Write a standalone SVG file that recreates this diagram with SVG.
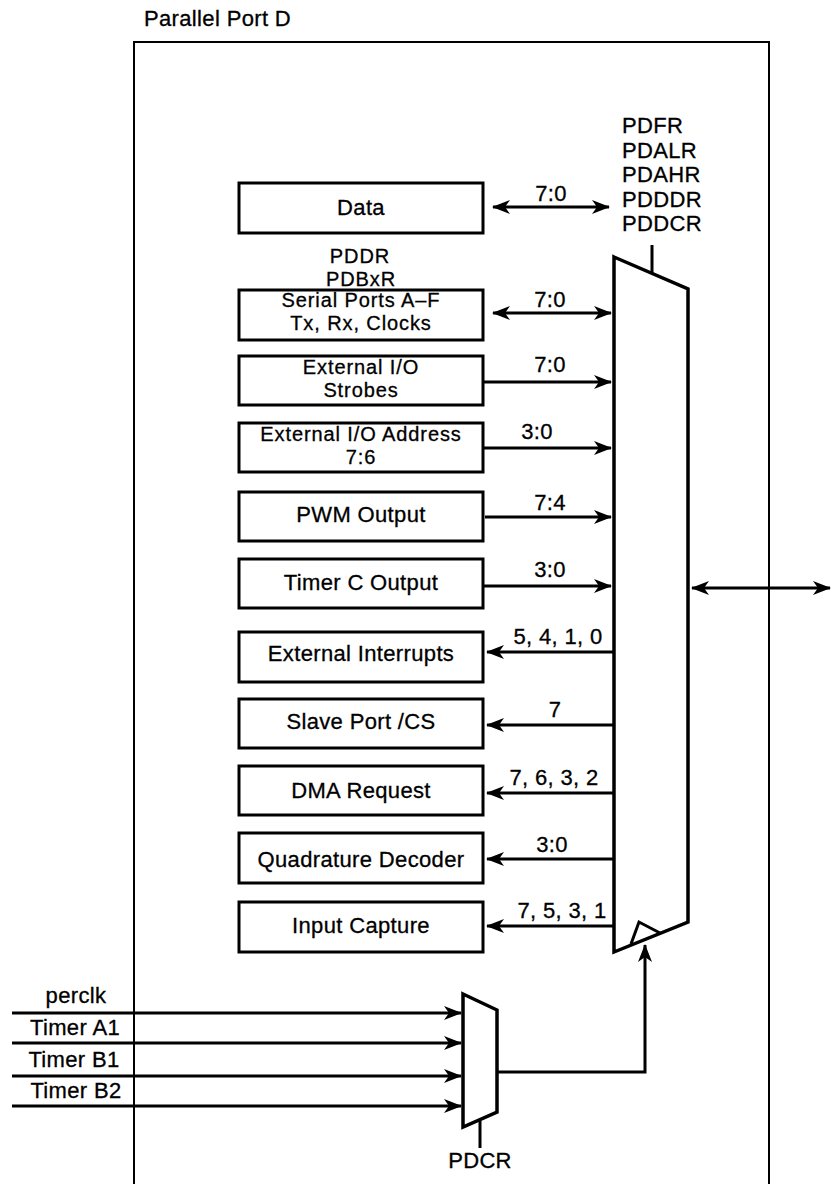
<svg xmlns="http://www.w3.org/2000/svg" width="831" height="1184" viewBox="0 0 831 1184">
<style>
text{font-family:"Liberation Sans",Arial,sans-serif;font-size:22px;letter-spacing:0.35px;fill:#000;stroke:#000;stroke-width:0.3}
.c{text-anchor:middle}
.t2{font-size:20px;letter-spacing:0.9px}
.box{fill:#fff;stroke:#000;stroke-width:3}
.frame{fill:none;stroke:#000;stroke-width:2}
.w{fill:none;stroke:#000;stroke-width:3}
.mux{fill:#fff;stroke:#000;stroke-width:3.5;stroke-linejoin:miter}
</style>
<defs>
<marker id="ah" viewBox="0 0 18 14" refX="17" refY="7" markerWidth="18" markerHeight="14" markerUnits="userSpaceOnUse" orient="auto-start-reverse">
<path d="M0,0 L18,7 L0,14 L5,7 Z" fill="#000"/>
</marker>
</defs>
<rect width="831" height="1184" fill="#fff"/>
<text x="144" y="26">Parallel Port D</text>
<path class="frame" d="M134,1184 V42 H769 V1184"/>

<g id="mux-main">
<path class="mux" d="M614,257 L688,289 L688,922 L614,952 Z"/>
<path class="w" d="M652,245 V273"/>
<path class="w" d="M631,944 L639,922 L660,933" stroke-width="2.5"/>
<text x="622"><tspan x="622" y="133">PDFR</tspan><tspan x="622" y="158">PDALR</tspan><tspan x="622" y="182">PDAHR</tspan><tspan x="622" y="207">PDDDR</tspan><tspan x="622" y="231">PDDCR</tspan></text>
</g>

<g id="mux-clk">
<path class="mux" d="M463,994 L497,1010 L497,1112 L463,1127 Z"/>
<path class="w" d="M480,1121 V1148"/>
<text class="c" x="480" y="1168">PDCR</text>
</g>

<g id="n-data"><rect class="box" x="239" y="183" width="244" height="50"/><text class="c" x="361" y="215">Data</text>
<text class="c t2"><tspan x="360" y="263">PDDR</tspan><tspan x="361" y="286">PDBxR</tspan></text></g>
<g id="n-serial"><rect class="box" x="239" y="290" width="244" height="50"/><text class="c t2"><tspan x="361" y="307">Serial Ports A–F</tspan><tspan x="361" y="330">Tx, Rx, Clocks</tspan></text></g>
<g id="n-strobes"><rect class="box" x="239" y="356" width="244" height="49"/><text class="c t2"><tspan x="361" y="374">External I/O</tspan><tspan x="361" y="397">Strobes</tspan></text></g>
<g id="n-addr"><rect class="box" x="239" y="423" width="244" height="49"/><text class="c t2"><tspan x="361" y="441">External I/O Address</tspan><tspan x="361" y="464">7:6</tspan></text></g>
<g id="n-pwm"><rect class="box" x="239" y="492" width="244" height="49"/><text class="c" x="361" y="522">PWM Output</text></g>
<g id="n-timerc"><rect class="box" x="239" y="559" width="244" height="49"/><text class="c" x="361" y="590">Timer C Output</text></g>
<g id="n-extint"><rect class="box" x="239" y="632" width="244" height="50"/><text class="c" x="361" y="661">External Interrupts</text></g>
<g id="n-slave"><rect class="box" x="239" y="699" width="244" height="49"/><text class="c" x="361" y="729">Slave Port /CS</text></g>
<g id="n-dma"><rect class="box" x="239" y="766" width="244" height="49"/><text class="c" x="361" y="798">DMA Request</text></g>
<g id="n-quad"><rect class="box" x="239" y="833" width="244" height="50"/><text class="c" x="361" y="867">Quadrature Decoder</text></g>
<g id="n-ic"><rect class="box" x="239" y="902" width="244" height="50"/><text class="c" x="361" y="933">Input Capture</text></g>

<g id="connectors">
<path class="w" d="M493,207 H609" marker-start="url(#ah)" marker-end="url(#ah)"/>
<path class="w" d="M493,313 H611" marker-start="url(#ah)" marker-end="url(#ah)"/>
<path class="w" d="M483,382 H611" marker-end="url(#ah)"/>
<path class="w" d="M483,448 H611" marker-end="url(#ah)"/>
<path class="w" d="M485,517 H611" marker-end="url(#ah)"/>
<path class="w" d="M483,586 H611" marker-end="url(#ah)"/>
<path class="w" d="M614,652 H487" marker-end="url(#ah)"/>
<path class="w" d="M614,725 H487" marker-end="url(#ah)"/>
<path class="w" d="M614,793 H487" marker-end="url(#ah)"/>
<path class="w" d="M614,859 H487" marker-end="url(#ah)"/>
<path class="w" d="M614,926 H487" marker-end="url(#ah)"/>
<path class="w" d="M692,588 H830" marker-start="url(#ah)" marker-end="url(#ah)"/>
<path class="w" d="M12,1013 H461" marker-end="url(#ah)"/>
<path class="w" d="M12,1043 H461" marker-end="url(#ah)"/>
<path class="w" d="M12,1076 H461" marker-end="url(#ah)"/>
<path class="w" d="M12,1106 H461" marker-end="url(#ah)"/>
<path class="w" d="M497,1072 H645 V945" marker-end="url(#ah)"/>
<text class="c" x="551" y="201">7:0</text>
<text class="c" x="550" y="307">7:0</text>
<text class="c" x="550" y="372">7:0</text>
<text class="c" x="537" y="439">3:0</text>
<text class="c" x="550" y="510">7:4</text>
<text class="c" x="550" y="577">3:0</text>
<text class="c" x="558" y="644">5, 4, 1, 0</text>
<text class="c" x="555" y="717">7</text>
<text class="c" x="554" y="785">7, 6, 3, 2</text>
<text class="c" x="552" y="852">3:0</text>
<text class="c" x="562" y="918">7, 5, 3, 1</text>
<text class="c" x="76" y="1003">perclk</text>
<text class="c" x="75" y="1035">Timer A1</text>
<text class="c" x="74" y="1067">Timer B1</text>
<text class="c" x="76" y="1098">Timer B2</text>
</g>
</svg>
